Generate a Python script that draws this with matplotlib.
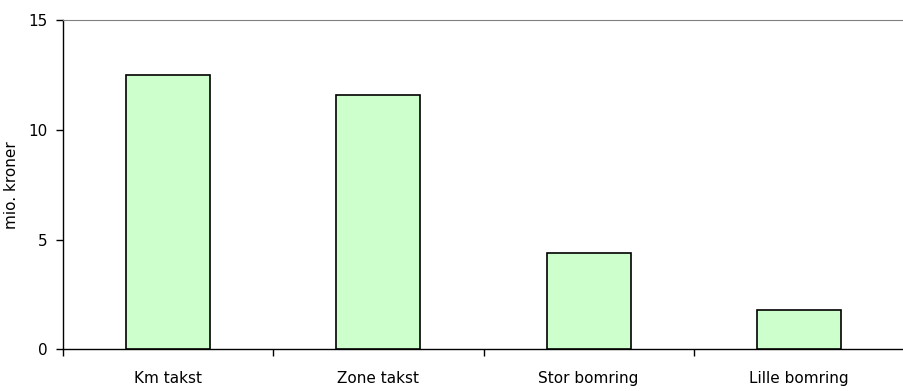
import numpy as np
import matplotlib.pyplot as plt

categories = ["Km takst", "Zone takst", "Stor bomring", "Lille bomring"]
values = [12.5, 11.6, 4.4, 1.8]

fig = plt.figure(figsize=(9.04, 3.91), dpi=100)
ax = fig.add_axes([0.0697, 0.1074, 0.9303, 0.8402])

x = np.arange(len(categories))
ax.bar(x, values, width=0.40, color="#CCFFCC", edgecolor="black", linewidth=1.2, zorder=3)

ax.set_xlim(-0.5, -0.5 + 841 / 213)
ax.set_ylim(0, 15)
ax.set_yticks([0, 5, 10, 15])
ax.tick_params(axis="y", length=5, width=1, labelsize=11, pad=6)

ax.set_xticks(x)
ax.set_xticklabels(categories, fontsize=11)
ax.set_xticks(np.arange(-0.5, len(categories), 1.0), minor=True)
ax.tick_params(axis="x", which="major", length=0, pad=16)
ax.tick_params(axis="x", which="minor", length=5, width=1)

ax.spines["right"].set_visible(False)
ax.spines["top"].set_color("#808080")
ax.spines["left"].set_linewidth(1)
ax.spines["bottom"].set_linewidth(1)

ax.set_ylabel("mio. kroner", fontsize=11, labelpad=4)
ax.yaxis.set_label_coords(-0.052, 0.5)

fig.savefig("out.png", dpi=100)
